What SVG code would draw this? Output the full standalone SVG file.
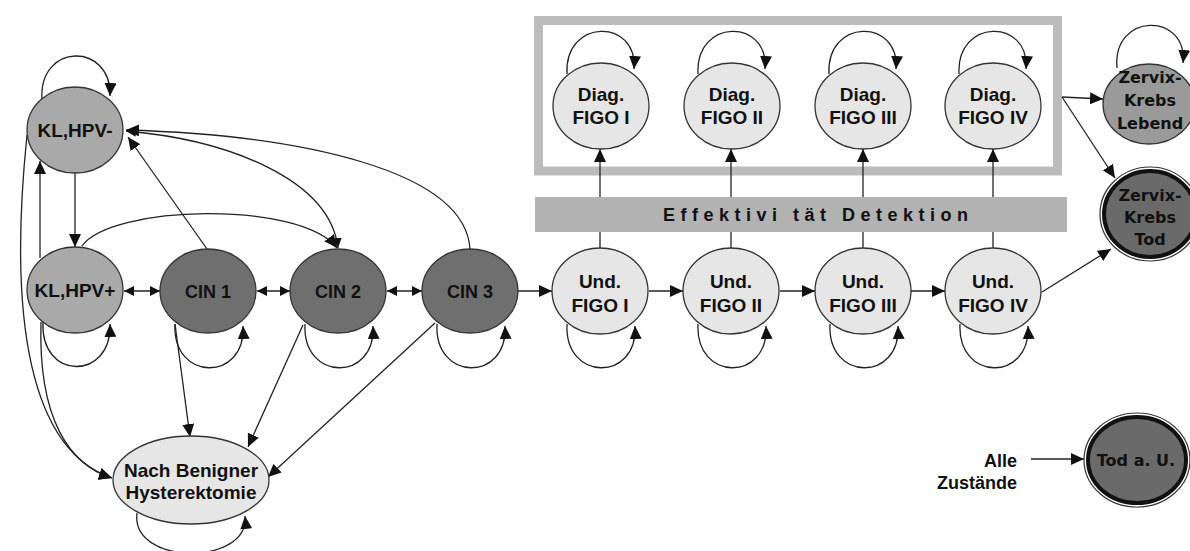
<svg xmlns="http://www.w3.org/2000/svg" width="1190" height="551" viewBox="0 0 1190 551">
<defs>
<marker id="ah" markerUnits="userSpaceOnUse" markerWidth="14" markerHeight="12" refX="13" refY="6" orient="auto-start-reverse"><path d="M0,0 L13,6 L0,12 z" fill="#111"/></marker>
<marker id="as" markerUnits="userSpaceOnUse" markerWidth="10" markerHeight="10" refX="10" refY="5" orient="auto-start-reverse"><path d="M0,0 L10,5 L0,10 z" fill="#111"/></marker>
</defs>
<style>
.n{stroke:#333;stroke-width:1.3}
.kl{fill:#a9a9a9}
.cin{fill:#6f6f6f}
.lt{fill:#e6e6e6}
.zl{fill:#9a9a9a}
.dk{fill:#6a6a6a}
.t{font-family:"Liberation Sans",Arial,sans-serif;font-weight:bold;font-size:19px;fill:#111;text-anchor:middle}
.tc{font-size:18px}
.d{font-family:"DejaVu Sans",Verdana,sans-serif;font-weight:bold;font-size:16px;fill:#111;text-anchor:middle}
.c{fill:none;stroke:#222;stroke-width:1.3}
.e{marker-end:url(#ah)}
.b{marker-start:url(#as);marker-end:url(#as)}
</style>
<rect width="1190" height="551" fill="#fff"/>
<rect x="538.5" y="20.5" width="519" height="150.5" fill="none" stroke="#bcbcbc" stroke-width="9"/>
<g id="connectors">
<!-- self loops -->
<path class="c e" d="M42,100 C38,42 112,42 110,96"/>
<path class="c e" d="M43,322 C40,381 112,381 110,324"/>
<path class="c e" d="M175,324 C172,382 246,382 243,326"/>
<path class="c e" d="M305,324 C302,382 376,382 373,326"/>
<path class="c e" d="M437,324 C434,382 508,382 505,326"/>
<path class="c e" d="M567,324 C564,382 638,382 635,326"/>
<path class="c e" d="M698,324 C695,382 769,382 766,326"/>
<path class="c e" d="M830,324 C827,382 901,382 898,326"/>
<path class="c e" d="M960,324 C957,382 1031,382 1028,326"/>
<path class="c e" d="M567,74 C564,18 638,18 634,69"/>
<path class="c e" d="M698,74 C695,18 769,18 765,69"/>
<path class="c e" d="M829,74 C826,18 900,18 896,69"/>
<path class="c e" d="M959,74 C956,18 1030,18 1026,69"/>
<path class="c e" d="M1117,68 C1112,12 1188,12 1183,63"/>
<path class="c e" d="M137,513 C130,566 250,566 245,516"/>
<!-- KL links -->
<path class="c e" d="M75,173 L75,247"/>
<path class="c e" d="M40,258 L40,161"/>
<path class="c e" d="M27,135 C8,320 30,450 112,478"/>
<path class="c e" d="M41,322 C38,420 70,465 112,478"/>
<path class="c e" d="M207,249 L128,137"/>
<path class="c b" d="M126,131 C230,140 330,180 338,248"/>
<path class="c e" d="M82,246 C110,205 300,200 337,248"/>
<path class="c e" d="M470,249 C465,170 300,135 126,130"/>
<!-- horizontal chain -->
<path class="c b" d="M124,291 L160,291"/>
<path class="c b" d="M257,291 L290,291"/>
<path class="c b" d="M387,291 L422,291"/>
<path class="c e" d="M518,291 L552,291"/>
<path class="c e" d="M649,291 L683,291"/>
<path class="c e" d="M780,291 L815,291"/>
<path class="c e" d="M911,291 L945,291"/>
<path class="c e" d="M1042,292 L1111,249"/>
<!-- to Nach Benigner -->
<path class="c e" d="M175,324 L190,437"/>
<path class="c e" d="M303,325 L248,447"/>
<path class="c e" d="M435,323 L268,477"/>
<!-- Und to Diag -->
<path class="c e" d="M600,248 L600,149"/>
<path class="c e" d="M731,248 L731,149"/>
<path class="c e" d="M863,248 L863,149"/>
<path class="c e" d="M993,248 L993,149"/>
<!-- box to Zervix -->
<path class="c e" d="M1062,97 L1103,99"/>
<path class="c e" d="M1062,97 L1115,178"/>
<!-- Alle Zustaende -->
<path class="c e" d="M1031,459 L1084,459"/>
</g>
<g id="bar">
<rect x="535" y="197" width="532" height="35" fill="#b2b2b2"/>
<text x="663" y="221" font-family="Liberation Sans,Arial,sans-serif" font-weight="bold" font-size="18" letter-spacing="5.5" fill="#111">Effektivi tät Detektion</text>
</g>
<g id="kl-hpv-neg"><ellipse class="n kl" cx="75" cy="130" rx="48" ry="43"/><text class="t" x="75" y="137">KL,HPV-</text></g>
<g id="kl-hpv-pos"><ellipse class="n kl" cx="75" cy="290" rx="48" ry="43"/><text class="t" x="75" y="297">KL,HPV+</text></g>
<g id="cin1"><ellipse class="n cin" cx="208" cy="291" rx="48" ry="42"/><text class="t tc" x="208" y="298">CIN 1</text></g>
<g id="cin2"><ellipse class="n cin" cx="338" cy="291" rx="48" ry="42"/><text class="t tc" x="338" y="298">CIN 2</text></g>
<g id="cin3"><ellipse class="n cin" cx="470" cy="291" rx="48" ry="42"/><text class="t tc" x="470" y="298">CIN 3</text></g>
<g id="und1"><ellipse class="n lt" cx="600" cy="291" rx="48" ry="43"/><text class="t" x="600" y="288">Und.</text><text class="t" x="600" y="312">FIGO I</text></g>
<g id="und2"><ellipse class="n lt" cx="731" cy="291" rx="48" ry="43"/><text class="t" x="731" y="288">Und.</text><text class="t" x="731" y="312">FIGO II</text></g>
<g id="und3"><ellipse class="n lt" cx="863" cy="291" rx="48" ry="43"/><text class="t" x="863" y="288">Und.</text><text class="t" x="863" y="312">FIGO III</text></g>
<g id="und4"><ellipse class="n lt" cx="993" cy="291" rx="48" ry="43"/><text class="t" x="993" y="288">Und.</text><text class="t" x="993" y="312">FIGO IV</text></g>
<g id="diag1"><ellipse class="n lt" cx="601" cy="106" rx="48" ry="43"/><text class="t" x="601" y="101">Diag.</text><text class="t" x="601" y="124">FIGO I</text></g>
<g id="diag2"><ellipse class="n lt" cx="732" cy="106" rx="48" ry="43"/><text class="t" x="732" y="101">Diag.</text><text class="t" x="732" y="124">FIGO II</text></g>
<g id="diag3"><ellipse class="n lt" cx="863" cy="106" rx="48" ry="43"/><text class="t" x="863" y="101">Diag.</text><text class="t" x="863" y="124">FIGO III</text></g>
<g id="diag4"><ellipse class="n lt" cx="993" cy="106" rx="48" ry="43"/><text class="t" x="993" y="101">Diag.</text><text class="t" x="993" y="124">FIGO IV</text></g>
<g id="nach-benigner"><ellipse class="n lt" cx="191" cy="480" rx="78" ry="44"/><text class="t" x="191" y="477">Nach Benigner</text><text class="t" x="191" y="499">Hysterektomie</text></g>
<g id="zervix-lebend"><ellipse class="n zl" cx="1149" cy="104" rx="46" ry="40"/><text class="d" x="1150" y="83">Zervix-</text><text class="d" x="1150" y="106">Krebs</text><text class="d" x="1150" y="129">Lebend</text></g>
<g id="zervix-tod"><ellipse cx="1150" cy="214" rx="50" ry="47" fill="#fff" stroke="#333" stroke-width="1.2"/><ellipse cx="1150" cy="214" rx="46" ry="43" fill="#6a6a6a" stroke="#111" stroke-width="4"/><text class="d" x="1150" y="201">Zervix-</text><text class="d" x="1150" y="223">Krebs</text><text class="d" x="1150" y="245">Tod</text></g>
<g id="tod-au"><ellipse cx="1137" cy="460" rx="53" ry="47" fill="#fff" stroke="#333" stroke-width="1.2"/><ellipse cx="1137" cy="460" rx="49" ry="43" fill="#6a6a6a" stroke="#111" stroke-width="4"/><text class="d" x="1136" y="466">Tod a. U.</text></g>
<g id="alle-zustaende"><text class="t tc" x="1017" y="467" style="text-anchor:end">Alle</text><text class="t tc" x="1017" y="489" style="text-anchor:end">Zustände</text></g>
</svg>
